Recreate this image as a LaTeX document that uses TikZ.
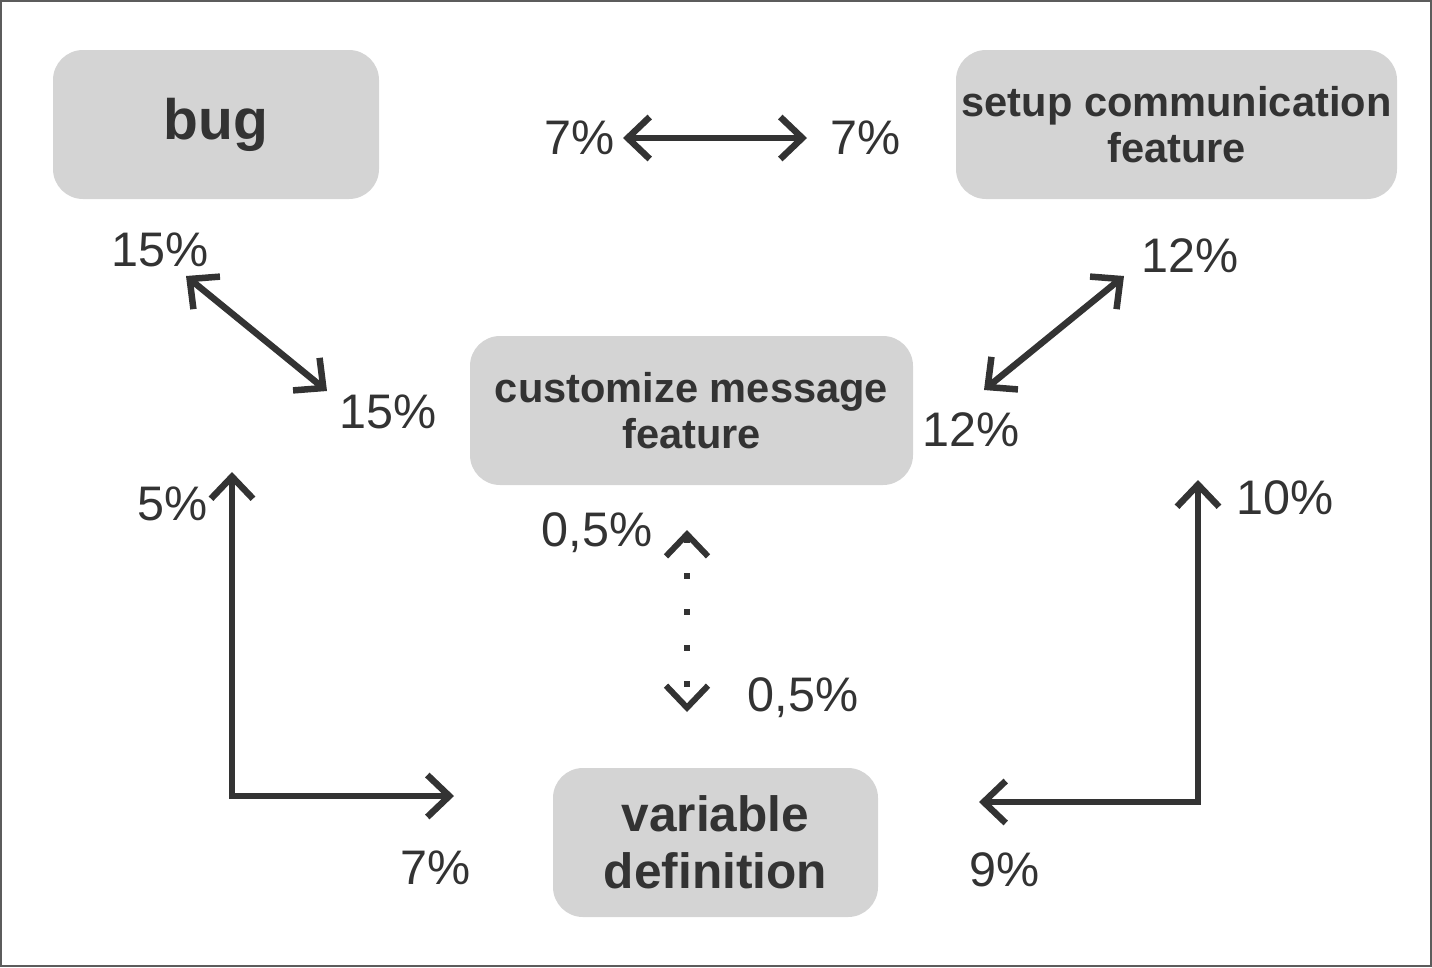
\documentclass[tikz,border=0pt]{standalone}
\usepackage{fontspec}
\setmainfont{Liberation Sans}
\usetikzlibrary{arrows.meta}
\definecolor{boxgray}{HTML}{D4D4D4}
\definecolor{ink}{HTML}{333333}
\begin{document}
\begin{tikzpicture}[x=1pt,y=-1pt,
  box/.style={fill=boxgray,rounded corners=30pt,inner sep=0pt,align=center,text=ink,font=\bfseries},
  pct/.style={text=ink,font=\fontsize{48.5}{50}\selectfont,inner sep=0pt},
  conn/.style={draw=ink,line width=6.5pt,{Straight Barb[length=22pt,width=42pt]}-{Straight Barb[length=22pt,width=42pt]}},
  dconn/.style={draw=ink,line width=6pt,dash pattern=on 6pt off 30pt,{Straight Barb[length=22pt,width=42pt]}-{Straight Barb[length=22pt,width=42pt]}}]
\useasboundingbox (0,0) rectangle (1432,967);
\draw[draw=ink!80,line width=2pt] (1,1) rectangle (1431,966);
% boxes
\node[box,minimum width=326pt,minimum height=149pt,font=\bfseries\fontsize{57}{60}\selectfont] (bug) at (216,124.5) {bug};
\node[box,minimum width=441pt,minimum height=149pt,font=\bfseries\fontsize{41.6}{46}\selectfont] (setup) at (1176.5,124.5) {setup communication\\feature};
\node[box,minimum width=443pt,minimum height=149pt,font=\bfseries\fontsize{41.6}{46}\selectfont] (cust) at (691.5,410.5) {customize message\\feature};
\node[box,minimum width=325pt,minimum height=149pt,font=\bfseries\fontsize{49.6}{57}\selectfont] (var) at (715.5,842.5) {variable\\definition};
% labels
\node[pct] (l7a) at (580,138) {7\%};
\node[pct] (l7b) at (866,138) {7\%};
\node[pct] (l15a) at (160,250) {15\%};
\node[pct] (l15b) at (388,412) {15\%};
\node[pct] (l12a) at (1190,256) {12\%};
\node[pct] (l12b) at (971,430) {12\%};
\node[pct] (l5) at (173,504) {5\%};
\node[pct] (l7c) at (436,868) {7\%};
\node[pct] (l10) at (1285,498) {10\%};
\node[pct] (l9) at (1005,870) {9\%};
\node[pct] (l05a) at (597,533) {0,5\%};
\node[pct] (l05b) at (803,698) {0,5\%};
% connector endpoints
\coordinate (a1) at (623,138);
\coordinate (a2) at (807,138);
\coordinate (b1) at (186,276);
\coordinate (b2) at (327,391);
\coordinate (c1) at (1124,276);
\coordinate (c2) at (984,390);
\coordinate (d1) at (232,472);
\coordinate (d2) at (232,796);
\coordinate (d3) at (454,796);
\coordinate (e1) at (1198,480);
\coordinate (e2) at (1198,802);
\coordinate (e3) at (979,802);
\coordinate (f1) at (687,530);
\coordinate (f2) at (687,712);
\draw[conn] (a1) -- (a2);
\draw[conn] (b1) -- (b2);
\draw[conn] (c1) -- (c2);
\draw[conn,line join=miter] (d1) -- (d2) -- (d3);
\draw[conn,line join=miter] (e1) -- (e2) -- (e3);
\draw[dconn] (f1) -- (f2);
\end{tikzpicture}
\end{document}
